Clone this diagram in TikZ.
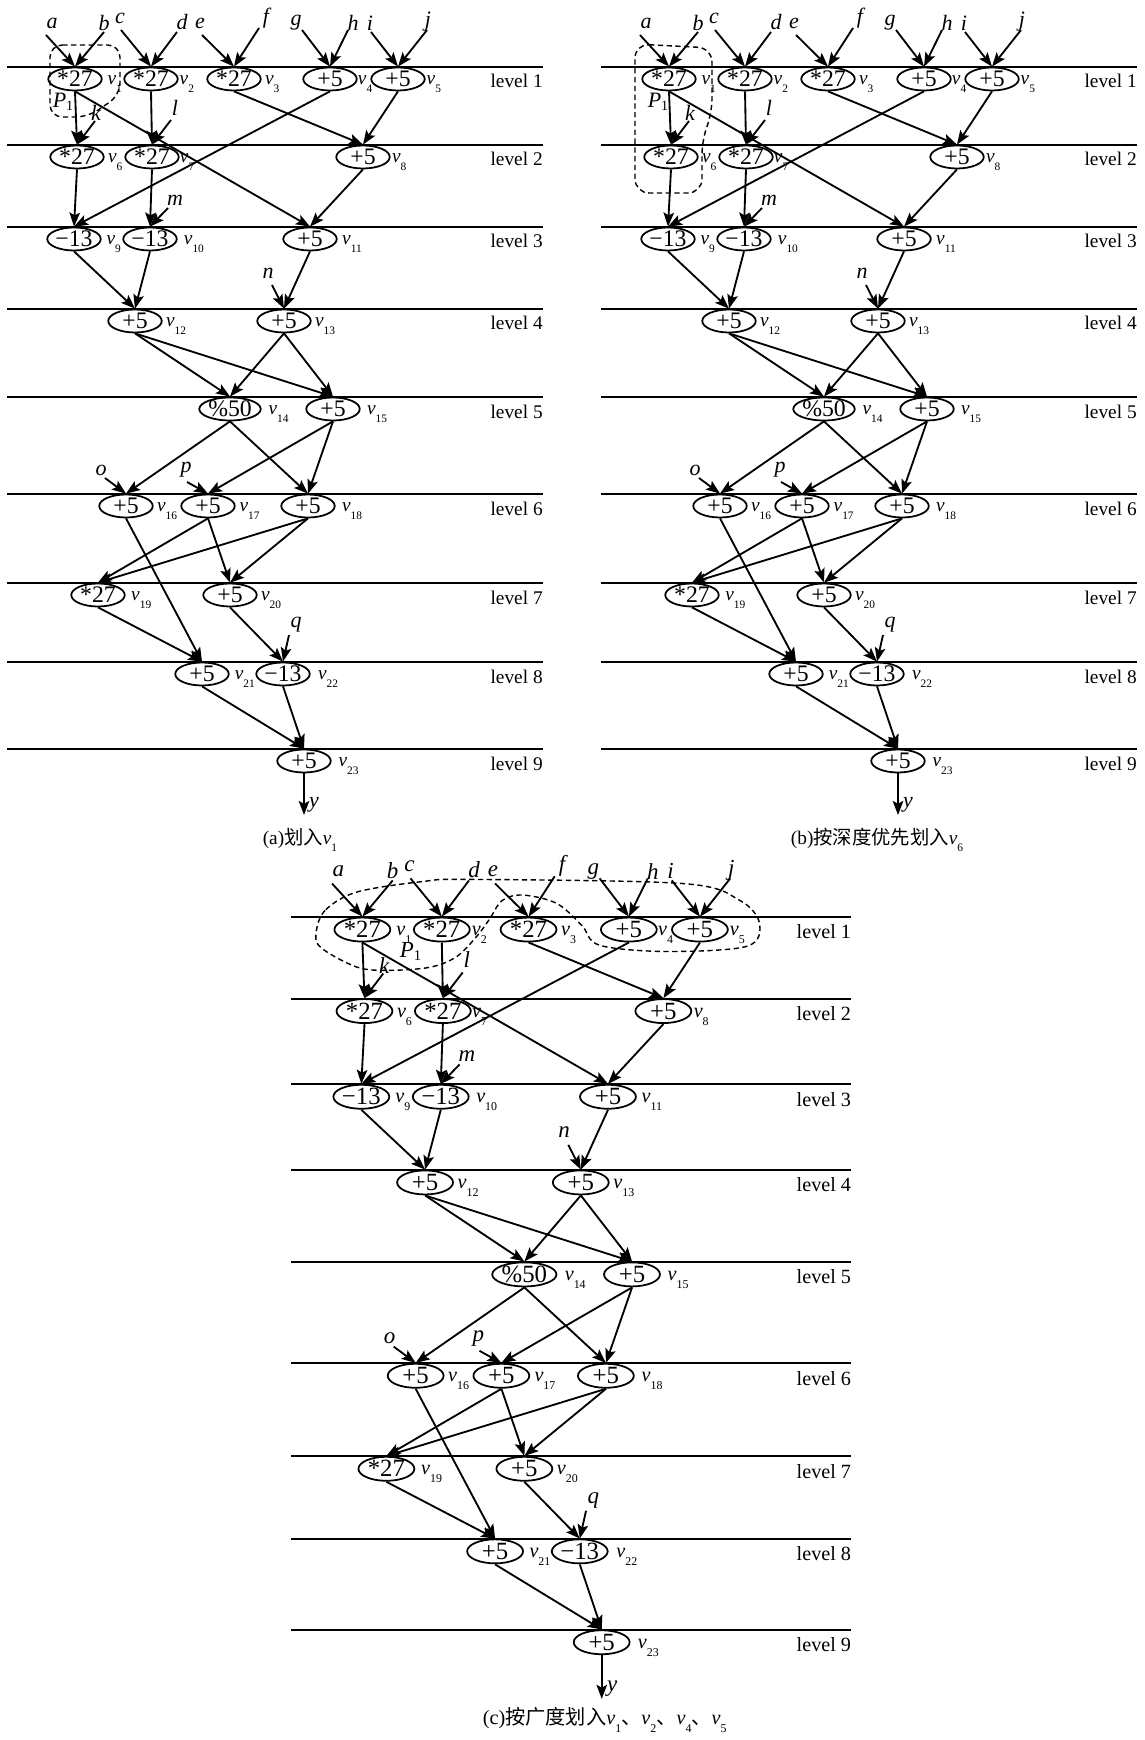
\documentclass[tikz,border=0pt]{standalone}
\usepackage{fontspec}
\setmainfont{Liberation Serif}
\newfontfamily\cjk{Noto Sans CJK SC}
\usetikzlibrary{arrows.meta, shapes.geometric, positioning}

\newcommand{\vsub}[1]{\textit{v}\raisebox{-4.3pt}{\fontsize{6.5}{7}\selectfont #1}}
\newcommand{\psub}{\textit{P}\raisebox{-2pt}{\fontsize{8}{9}\selectfont 1}}

\tikzset{
  op/.style={draw, ellipse, line width=1pt, minimum width=1.07cm,
    minimum height=0.46cm, inner sep=0pt, font=\fontsize{13.5}{14}\selectfont},
  vlab/.style={anchor=base west, inner sep=0pt, yshift=-3.3pt,
    font=\fontsize{11}{12}\selectfont},
  inlab/.style={inner sep=0pt, font=\fontsize{12.5}{13}\selectfont\itshape},
  levlab/.style={anchor=base east, inner sep=0pt, font=\fontsize{11}{12}\selectfont},
  levline/.style={line width=1.1pt},
  flow/.style={-{Stealth[length=8pt, width=6pt, inset=1.6pt]}, line width=1.05pt},
  part/.style={dash pattern=on 3pt off 2pt, line width=0.8pt},
  caption/.style={font=\fontsize{11}{12}\selectfont},
  panela/.style={name prefix=a-},
  panelb/.style={shift={(594,0)}, name prefix=b-},
  panelc/.style={shift={(284,847)}, scale=1.045, transform shape, name prefix=c-},
}

% one data flow graph, drawn in the coordinates of panel (a)
\newcommand{\dfgraph}{%
  % levels
  \foreach \l/\ly in {1/67, 2/145, 3/227, 4/309, 5/397, 6/494, 7/583, 8/662, 9/749} {
    \draw[levline] (7,\ly) -- (543,\ly);
    \node[levlab] (lev\l) at (543,\ly+21) {level \l};
  }
  % operations
  \foreach \n/\px/\py/\txt in {1/75/79/*27, 2/151/79/*27, 3/234/79/*27, 4/330/79/+5,
      5/398/79/+5, 6/77/157/*27, 7/152/157/*27, 8/363/157/+5, 9/74/239/−13,
      10/150/239/−13, 11/310/239/+5, 12/135/321/+5, 13/284/321/+5,
      14/230/409/{\%50}, 15/333/409/+5, 16/126/506/+5, 17/208/506/+5,
      18/308/506/+5, 19/98/595/*27, 20/230/595/+5, 21/202/674/+5,
      22/283/674/−13, 23/304/761/+5} {
    \node[op] (v\n) at (\px,\py) {\txt};
  }
  \foreach \n/\dx in {1/2.6, 2/0.4, 3/1.8, 4/0, 5/0.4, 6/1.8, 7/0, 8/0.6, 9/2.6,
      10/3.4, 11/2.4, 12/1.8, 13/1.8, 14/3.8, 15/3.5, 16/1.8, 17/2.1, 18/3.5,
      19/3, 20/1.8, 21/2.8, 22/4, 23/3.8} {
    \node[vlab] (t\n) at ([xshift=\dx pt]v\n.east) {\vsub{\n}};
  }
  % edges
  \foreach \s/\d in {1/6, 1/11, 2/7, 3/8, 4/9, 5/8, 6/9, 7/10, 8/11, 9/12, 10/12,
      11/13, 12/14, 12/15, 13/14, 13/15, 14/16, 14/18, 15/17, 15/18, 16/21,
      17/19, 17/20, 18/19, 18/20, 19/21, 20/22, 21/23, 22/23} {
    \draw[flow] (v\s.south) -- (v\d.north);
  }
  % primary inputs
  \foreach \n/\sx/\sy/\lx/\ly/\d in {a/46/35/52/23/1, b/104/32/104/23/1,
      c/121/30/120/18/2, d/177/32/182/22/2, e/202/35/200/23/3, f/259/28/266/18/3,
      g/302/30/296/23/4, h/348/30/353/23/4, i/371/32/370/23/5, j/427/30/428/22/5,
      k/95/121/96/113/6, l/171/120/175/108/7, m/168/208/175/200/10,
      n/272/285/268/273/13, o/105/478/101/470/16, p/187/482/186/470/17,
      q/289/635/296/625/22} {
    \coordinate (s\n) at (\sx,\sy);
    \node[inlab] (l\n) at (\lx,\ly) {\n};
    \draw[flow] (s\n) -- (v\d.north);
  }
  % output
  \coordinate (sy) at (304,815);
  \draw[flow] (v23.south) -- (sy);
  \node[inlab] (ly) at (314,805) {y};
}

\begin{document}
\begin{tikzpicture}[x=0.02cm, y=-0.02cm]
  \useasboundingbox (0,0) rectangle (1145,1740);

  % (a) v1 alone
  \begin{scope}[panela]
    \dfgraph
    \draw[part, rounded corners=7pt] (50,45) -- (120,45) -- (120,95) -- (88,117)
      -- (50,117) -- cycle;
    \node[inlab, font=\fontsize{12.5}{13}\selectfont] (p1) at (63,102) {\psub};
    \node[caption] (cap) at (300,840) {(a){\cjk 划入}\vsub{1}};
  \end{scope}

  % (b) depth first
  \begin{scope}[panelb]
    \dfgraph
    \draw[part, rounded corners=8pt] (41,44) -- (118,48) -- (118,113) -- (108,140)
      -- (108,193) -- (41,193) -- cycle;
    \node[inlab, font=\fontsize{12.5}{13}\selectfont] (p1) at (64,102) {\psub};
    \node[caption] (cap) at (283,840) {(b){\cjk 按深度优先划入}\vsub{6}};
  \end{scope}

  % (c) breadth first
  \begin{scope}[panelc]
    \dfgraph
    \draw[part] plot[smooth cycle, tension=0.55] coordinates {(31,80) (40,60)
      (70,43) (133,33) (178,31) (382,35) (436,51) (455,73) (443,95) (366,100)
      (302,94) (285,75) (261,54) (229,46) (209,51) (196,70) (184,86) (165,105)
      (140,115) (101,118) (70,115) (35,96)};
    \node[inlab, font=\fontsize{12.5}{13}\selectfont] (p1) at (121,100) {\psub};
    \node[caption] (cap) at (307,835) {(c){\cjk 按广度划入}\vsub{1}{\cjk 、}\vsub{2}{\cjk 、}\vsub{4}{\cjk 、}\vsub{5}};
  \end{scope}
\end{tikzpicture}
\end{document}
